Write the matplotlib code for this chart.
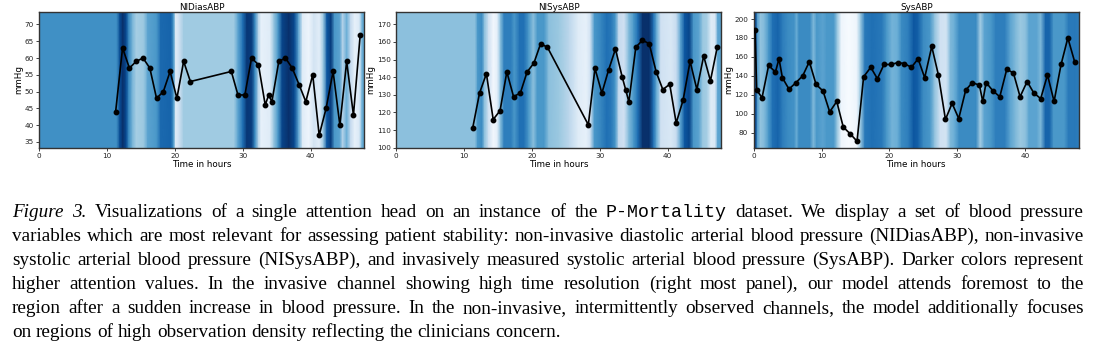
import matplotlib
matplotlib.use("Agg")
import matplotlib.pyplot as plt
import numpy as np

# ---------------- data ----------------
ni_times = [11.25, 12.27, 13.28, 14.28, 15.29, 16.29, 17.28, 18.28, 19.28, 20.28, 21.27,
            22.27, 28.3, 29.28, 30.3, 31.28, 32.3, 33.3, 33.8, 34.28, 35.3, 36.28, 37.28,
            38.3, 39.28, 40.3, 41.25, 42.27, 43.3, 44.3, 45.3, 46.3, 47.3]
nidias_values = [44, 63, 57, 59, 60, 57, 48, 50, 56, 48, 59, 53, 56, 49, 49, 60, 58, 46, 49,
                 47, 59, 60, 57, 52, 47, 55, 37, 45, 56, 40, 59, 43, 67]
nisys_values = [111, 131, 142, 116, 121, 143, 129, 131, 143, 148, 159, 157, 113, 145, 131,
                144, 156, 140, 133, 126, 157, 161, 159, 143, 133, 136, 114, 127, 149, 133,
                152, 138, 157]

sys_times = [0.2, 0.44, 1.23, 2.2, 3.2, 3.73, 4.23, 5.2, 6.24, 7.22, 8.2, 9.19, 10.22, 11.2,
             12.24, 13.2, 14.2, 15.23, 16.2, 17.25, 18.23, 19.2, 20.25, 21.23, 22.2, 23.24,
             24.23, 25.2, 26.24, 27.22, 28.26, 29.24, 30.22, 31.25, 32.24, 33.27, 33.76,
             34.25, 35.28, 36.27, 37.3, 38.28, 39.26, 40.3, 41.28, 42.3, 43.3, 44.27, 45.3,
             46.3, 47.3]
sys_values = [188, 125, 117, 151, 144, 158, 138, 126, 133, 140, 155, 131, 124, 102, 113, 86,
              79, 71, 139, 149, 137, 152, 152, 154, 153, 149, 158, 138, 171, 141, 94, 111, 95,
              125, 133, 130, 113, 133, 124, 118, 147, 143, 118, 134, 122, 116, 141, 113, 152,
              180, 155]

# attention (background heat map): knot times and attention values
nidias_att_t = [0, 11.4, 11.9, 12.3, 12.8, 13.2, 13.8, 14.3, 15.4, 16.0, 17.3, 17.9, 19.4, 19.8,
                20.1, 20.6, 21.3, 28.7, 29.3, 30.0, 30.6, 31.3, 31.8, 32.3, 32.7, 34.0, 34.6,
                35.2, 35.8, 36.8, 37.6, 38.2, 38.8, 39.7, 40.5, 41.3, 41.9, 42.4, 43.0, 43.5,
                44.3, 44.7, 45.3, 45.9, 46.5, 47.2, 47.6, 48]
nidias_att = [0.63, 0.63, 0.9, 1.0, 0.9, 0.65, 0.45, 0.35, 0.38, 0.55, 0.6, 0.78, 0.8, 0.6,
              0.12, 0.2, 0.37, 0.37, 0.55, 0.75, 0.97, 0.95, 0.65, 0.3, 0.08, 0.12, 0.4,
              0.6, 0.92, 1.0, 0.9, 0.55, 0.12, 0.05, 0.18, 0.1, 0.4, 0.85, 0.95, 0.6,
              0.55, 0.3, 0.5, 0.25, 0.08, 0.15, 0.5, 0.55]

nisys_att_t = [0, 11.6, 12.0, 12.6, 13.0, 13.6, 14.3, 14.9, 15.4, 15.9, 16.9, 17.4, 18.2, 18.8,
               19.5, 20.2, 20.8, 21.8, 22.5, 24.0, 25.5, 26.8, 28.0, 28.6, 29.2, 30.3, 31.0,
               31.7, 32.3, 32.8, 33.6, 34.3, 35.0, 35.6, 36.3, 37.3, 37.9, 38.4, 39.0, 40.5,
               41.3, 41.9, 42.5, 43.2, 43.8, 44.6, 45.2, 45.8, 46.4, 47.0, 47.4, 48]
nisys_att = [0.42, 0.42, 0.6, 0.65, 0.42, 0.2, 0.03, 0.1, 0.45, 0.7, 0.7, 0.6, 0.75, 0.75,
             0.6, 0.42, 0.6, 0.6, 0.42, 0.38, 0.28, 0.12, 0.08, 0.2, 0.6, 0.68, 0.75,
             0.72, 0.6, 0.25, 0.2, 0.45, 0.6, 0.75, 1.0, 1.0, 0.75, 0.5, 0.2, 0.15,
             0.25, 0.55, 0.85, 0.92, 0.6, 0.55, 0.38, 0.35, 0.12, 0.15, 0.55, 0.55]

sys_att_t = [0, 0.3, 0.6, 1.0, 1.6, 2.2, 2.8, 3.6, 4.3, 5.0, 6.0, 6.3, 6.7, 8.3, 8.8, 9.3, 10.2,
             10.8, 11.8, 12.3, 12.9, 14.0, 15.2, 15.8, 16.4, 17.5, 18.9, 19.6, 20.4, 21.2,
             21.8, 22.8, 23.6, 24.2, 25.0, 26.0, 26.7, 27.5, 28.4, 29.0, 29.6, 30.3, 32.8,
             33.4, 34.0, 35.0, 35.7, 37.0, 37.8, 38.6, 39.3, 40.1, 40.6, 41.7, 42.3, 43.0,
             43.6, 44.2, 45.8, 46.4, 47.4, 48]
sys_att = [0.95, 0.9, 0.55, 0.4, 0.45, 0.6, 0.75, 0.8, 0.7, 0.65, 0.62, 0.5, 0.65, 0.65, 0.45,
           0.6, 0.55, 0.6, 0.6, 0.4, 0.05, 0.0, 0.05, 0.4, 0.72, 0.75, 0.72, 0.6, 0.48, 0.5,
           0.65, 0.7, 0.85, 0.82, 0.65, 0.6, 0.4, 0.2, 0.18, 0.45, 0.5, 0.65, 0.65,
           0.35, 0.55, 0.6, 0.7, 0.7, 0.55, 0.45, 0.38, 0.42, 0.55, 0.55, 0.45, 0.8,
           0.8, 0.6, 0.6, 0.72, 0.72, 0.7]

panel_titles = ["NIDiasABP", "NISysABP", "SysABP"]
xticks = [0, 10, 20, 30, 40]
yticks_list = [[35, 40, 45, 50, 55, 60, 65, 70],
               [100, 110, 120, 130, 140, 150, 160, 170],
               [80, 100, 120, 140, 160, 180, 200]]

caption_lines = [
    "Figure 3. Visualizations of a single attention head on an instance of the P-Mortality dataset.  We display a set of blood pressure",
    "variables which are most relevant for assessing patient stability: non-invasive diastolic arterial blood pressure (NIDiasABP), non-invasive",
    "systolic arterial blood pressure (NISysABP), and invasively measured systolic arterial blood pressure (SysABP). Darker colors represent",
    "higher attention values.  In the invasive channel showing high time resolution (right most panel), our model attends foremost to the",
    "region after a sudden increase in blood pressure.  In the non-invasive, intermittently observed channels, the model additionally focuses",
    "on regions of high observation density reflecting the clinicians concern.",
]

# ---------------- figure ----------------
W, H = 1094, 353
fig = plt.figure(figsize=(W / 100, H / 100), dpi=100)

panels = [
    (ni_times, nidias_values, nidias_att_t, nidias_att, (33.3, 73.7), 39.3),
    (ni_times, nisys_values, nisys_att_t, nisys_att, (100, 177), 396.3),
    (sys_times, sys_values, sys_att_t, sys_att, (64.2, 207.4), 753.7),
]
ax_w = 325.0
ax_top, ax_bot = 12.0, 147.7

for i, (tt, vv, at, av, ylim, left) in enumerate(panels):
    ax = fig.add_axes([left / W, 1 - ax_bot / H, ax_w / W, (ax_bot - ax_top) / H])
    C = np.vstack([av, av])
    ax.pcolormesh(np.asarray(at), np.array(ylim), C, shading="gouraud",
                  cmap="Blues", vmin=0, vmax=1, zorder=0)
    ax.plot(tt, vv, color="black", lw=1.2, marker="o", ms=3.2, zorder=3)
    ax.set_xlim(0, 47.9)
    ax.set_ylim(*ylim)
    ax.set_xticks(xticks)
    ax.set_yticks(yticks_list[i])
    ax.tick_params(labelsize=5.2, length=2.5, width=0.6, pad=1.5, colors="#222222")
    ax.set_title(panel_titles[i], fontsize=6.3, pad=1.5)
    ax.set_xlabel("Time in hours", fontsize=6.3, labelpad=0.5)
    ax.set_ylabel("mmHg", fontsize=6.3, labelpad=1)
    for s in ax.spines.values():
        s.set_color("#333333")
        s.set_linewidth(1.0)

# ---------------- caption (justified) ----------------
renderer = fig.canvas.get_renderer()
x0, x1 = 12.0, 1084.0
base = 12.0
serif = "Liberation Serif"
mono = "Liberation Mono"

def make_words(line, size, y):
    objs = []
    words = line.split()
    for k, w in enumerate(words):
        kw = dict(fontsize=size, family=serif)
        if line.startswith("Figure 3.") and k < 2:
            kw["style"] = "italic"
        if w == "P-Mortality":
            kw["family"] = mono
            kw["fontsize"] = size * 0.95
        t = fig.text(0, y, w, va="baseline", ha="left", **kw)
        objs.append(t)
    return objs

# measure at base size to fit font size
ratios = []
for line in caption_lines[:-1]:
    objs = make_words(line, base, 0.0)
    ww = sum(o.get_window_extent(renderer).width for o in objs)
    gaps = len(objs) - 1
    em = base * 100 / 72
    ratios.append((x1 - x0) / (ww + gaps * 0.22 * em))
    for o in objs:
        o.remove()
size = base * min(min(ratios), 1.15)

for li, line in enumerate(caption_lines):
    y = 1 - (217.0 + 24.0 * li) / H
    objs = make_words(line, size, y)
    widths = [o.get_window_extent(renderer).width for o in objs]
    gaps = len(objs) - 1
    if li < len(caption_lines) - 1:
        gap = ((x1 - x0) - sum(widths)) / gaps
    else:
        gap = 0.25 * size * 100 / 72
    x = x0
    for o, w in zip(objs, widths):
        o.set_x(x / W)
        x += w + gap

fig.savefig("out.png", dpi=100)
